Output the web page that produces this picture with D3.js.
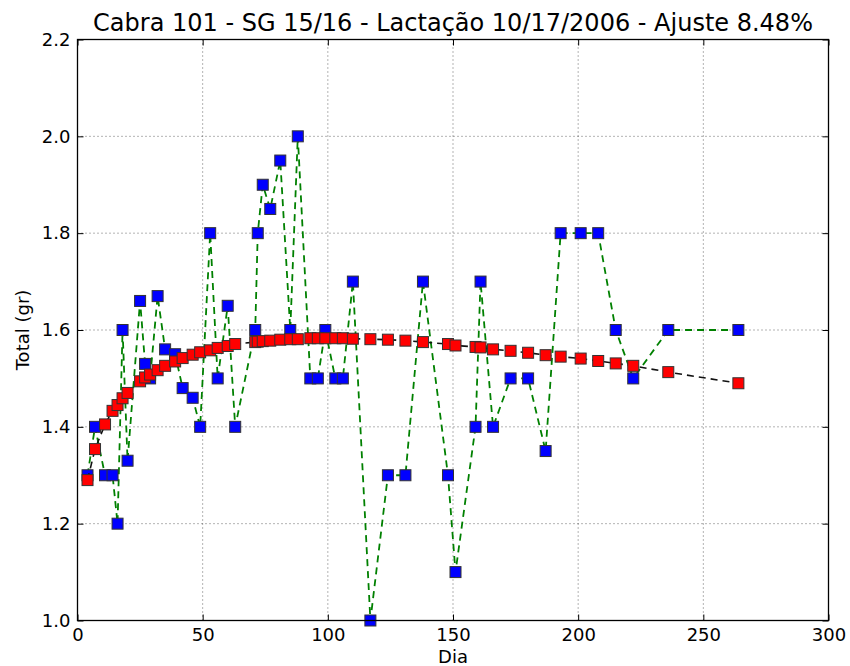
<!DOCTYPE html>
<html>
<head>
<meta charset="utf-8">
<script src="https://cdn.jsdelivr.net/npm/d3@7"></script>
<style>
  body { margin: 0; background: #fff; }
  text { font-family: "DejaVu Sans", sans-serif; fill: #000; }
</style>
</head>
<body>
<div id="chart"></div>
<script>
// lactation days of each weighing
var days = [4, 7, 11, 14, 16, 18, 20, 25, 27, 29, 32, 35, 39, 42, 46, 49, 53, 56, 60, 63,
  71, 72, 74, 77, 81, 85, 88, 93, 96, 99, 103, 106, 110, 117, 124, 131, 138, 148, 151, 159,
  161, 166, 173, 180, 187, 193, 201, 208, 215, 222, 236, 264];

// measured totals (blue)
var measured = [1.3, 1.4, 1.3, 1.3, 1.2, 1.6, 1.33, 1.66, 1.53, 1.5, 1.67, 1.56, 1.55, 1.48, 1.46, 1.4, 1.8, 1.5, 1.65, 1.4,
  1.6, 1.8, 1.9, 1.85, 1.95, 1.6, 2.0, 1.5, 1.5, 1.6, 1.5, 1.5, 1.7, 1.0, 1.3, 1.3, 1.7, 1.3, 1.1, 1.4,
  1.7, 1.4, 1.5, 1.5, 1.35, 1.8, 1.8, 1.8, 1.6, 1.5, 1.6, 1.6];

// fitted curve values (red)
var fitted = [1.29, 1.354, 1.405, 1.433, 1.445, 1.459, 1.47, 1.494, 1.502, 1.508, 1.517, 1.526, 1.535, 1.542, 1.549, 1.554, 1.558, 1.563, 1.567, 1.571,
  1.575, 1.576, 1.577, 1.578, 1.58, 1.581, 1.581, 1.583, 1.583, 1.583, 1.583, 1.583, 1.582, 1.581, 1.58, 1.578, 1.575, 1.571, 1.568, 1.565,
  1.564, 1.56, 1.557, 1.553, 1.548, 1.545, 1.541, 1.536, 1.531, 1.526, 1.513, 1.49];

var xTicks = [0, 50, 100, 150, 200, 250, 300];
var yTicks = [1.0, 1.2, 1.4, 1.6, 1.8, 2.0, 2.2];

var title = "Cabra 101 - SG 15/16 - Lactação 10/17/2006 - Ajuste 8.48%";

var W = 850, H = 666;
var margin = {top: 39.5, right: 21.5, bottom: 45.5, left: 77.5},
  width = W - margin.left - margin.right,
  height = H - margin.top - margin.bottom;

var svg = d3.select("#chart").append("svg")
  .attr("width", W)
  .attr("height", H);

var g = svg.append("g")
  .attr("transform", "translate(" + margin.left + "," + margin.top + ")");

var x = d3.scaleLinear().domain([0, 300]).range([0, width]);
var y = d3.scaleLinear().domain([1.0, 2.2]).range([height, 0]);

// grid
g.append("g").selectAll("line").data(xTicks.slice(1, -1)).join("line")
  .attr("x1", d => x(d)).attr("x2", d => x(d))
  .attr("y1", 0).attr("y2", height)
  .attr("stroke", "#000").attr("stroke-opacity", 0.6)
  .attr("stroke-dasharray", "1,3");
g.append("g").selectAll("line").data(yTicks.slice(1, -1)).join("line")
  .attr("y1", d => y(d)).attr("y2", d => y(d))
  .attr("x1", 0).attr("x2", width)
  .attr("stroke", "#000").attr("stroke-opacity", 0.6)
  .attr("stroke-dasharray", "1,3");

svg.append("clipPath").attr("id", "clip")
  .append("rect").attr("x", -8).attr("y", -8).attr("width", width + 16).attr("height", height + 16);

var plot = g.append("g").attr("clip-path", "url(#clip)");

var line = d3.line().x(d => x(d[0])).y(d => y(d[1]));
var ms = 11;

// measured series
var meas = days.map((d, i) => [d, measured[i]]);
plot.append("path").datum(meas)
  .attr("fill", "none")
  .attr("stroke", "#008000")
  .attr("stroke-width", 1.8)
  .attr("stroke-dasharray", "7,5")
  .attr("d", line);
plot.append("g").selectAll("rect").data(meas).join("rect")
  .attr("x", d => x(d[0]) - ms / 2)
  .attr("y", d => y(d[1]) - ms / 2)
  .attr("width", ms).attr("height", ms)
  .attr("fill", "#0000ff")
  .attr("stroke", "#333").attr("stroke-width", 1);

// fitted series
var fit = days.map((d, i) => [d, fitted[i]]);
plot.append("path").datum(fit)
  .attr("fill", "none")
  .attr("stroke", "#111")
  .attr("stroke-width", 1.6)
  .attr("stroke-dasharray", "7,5")
  .attr("d", line);
plot.append("g").selectAll("rect").data(fit).join("rect")
  .attr("x", d => x(d[0]) - ms / 2)
  .attr("y", d => y(d[1]) - ms / 2)
  .attr("width", ms).attr("height", ms)
  .attr("fill", "#ff0000")
  .attr("stroke", "#333").attr("stroke-width", 1);

// axes, ticks pointing inward on all four sides
function style(sel) {
  sel.select(".domain").remove();
  sel.selectAll(".tick line").attr("stroke", "#000").attr("stroke-width", 1);
  sel.selectAll(".tick text").style("font-size", "18px").style("font-family", "DejaVu Sans");
}
g.append("g").attr("transform", "translate(0," + height + ")")
  .call(d3.axisBottom(x).tickValues(xTicks).tickSizeInner(-6).tickSizeOuter(0).tickPadding(8).tickFormat(d3.format("d")))
  .call(style);
g.append("g")
  .call(d3.axisLeft(y).tickValues(yTicks).tickSizeInner(-6).tickSizeOuter(0).tickPadding(7).tickFormat(d3.format(".1f")))
  .call(style);
g.append("g")
  .call(d3.axisTop(x).tickValues(xTicks).tickSizeInner(-6).tickSizeOuter(0).tickFormat(""))
  .call(style);
g.append("g").attr("transform", "translate(" + width + ",0)")
  .call(d3.axisRight(y).tickValues(yTicks).tickSizeInner(-6).tickSizeOuter(0).tickFormat(""))
  .call(style);

// frame
g.append("rect")
  .attr("width", width).attr("height", height)
  .attr("fill", "none").attr("stroke", "#000").attr("stroke-width", 1.3);

// labels
svg.append("text")
  .attr("x", margin.left + width / 2).attr("y", 31)
  .attr("text-anchor", "middle")
  .style("font-size", "24px")
  .text(title);
svg.append("text")
  .attr("x", margin.left + width / 2).attr("y", 663)
  .attr("text-anchor", "middle")
  .style("font-size", "18px")
  .text("Dia");
svg.append("text")
  .attr("transform", "translate(29," + (margin.top + height / 2) + ") rotate(-90)")
  .attr("text-anchor", "middle")
  .style("font-size", "18px")
  .text("Total (gr)");
</script>
</body>
</html>
